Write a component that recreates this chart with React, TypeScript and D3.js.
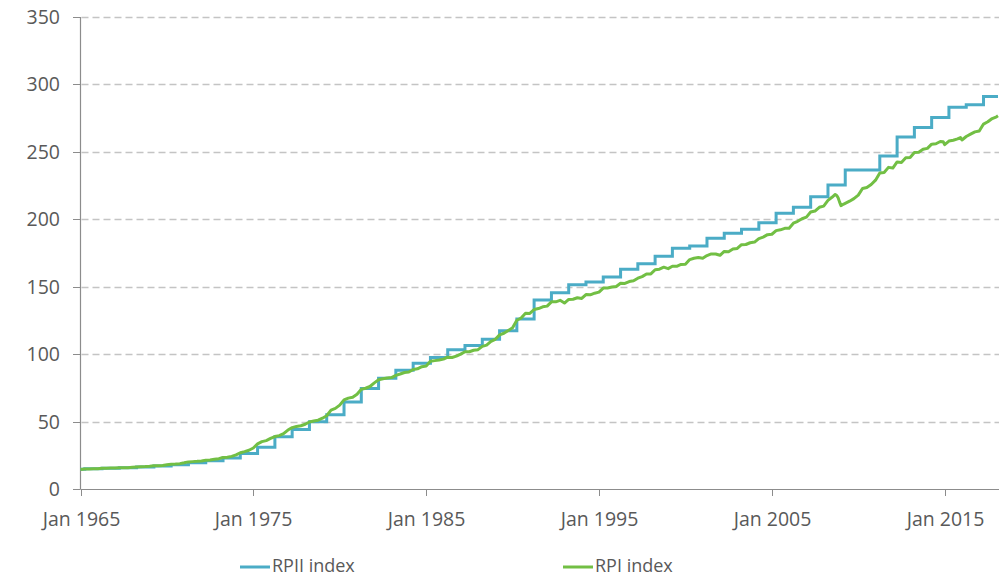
import React from "react";
import * as d3 from "d3";

const yTicks = [0, 50, 100, 150, 200, 250, 300, 350];
const xTickYears = [1965, 1975, 1985, 1995, 2005, 2015];

// RPII index: annual level, changing each April (year, value)
const rpiiYears = [1964, 1965, 1966, 1967, 1968, 1969, 1970, 1971, 1972, 1973, 1974, 1975, 1976, 1977, 1978, 1979, 1980, 1981, 1982, 1983, 1984, 1985, 1986, 1987, 1988, 1989, 1990, 1991, 1992, 1993, 1994, 1995, 1996, 1997, 1998, 1999, 2000, 2001, 2002, 2003, 2004, 2005, 2006, 2007, 2008, 2009, 2010, 2011, 2012, 2013, 2014, 2015, 2016, 2017];
const rpiiValues = [14.6, 15.0, 15.4, 15.8, 16.3, 17.0, 17.9, 19.5, 21.0, 23.0, 26.4, 30.9, 38.8, 44.2, 49.9, 55.0, 64.5, 74.6, 82.2, 88.0, 93.2, 97.5, 103.3, 106.5, 111.0, 117.4, 126.0, 140.1, 145.6, 151.5, 153.5, 157.2, 162.9, 167.0, 172.5, 178.5, 180.2, 185.9, 189.6, 192.6, 197.5, 204.4, 209.0, 216.7, 225.4, 236.5, 236.5, 247.0, 261.0, 268.0, 275.5, 283.0, 285.0, 291.0];

// RPI index: dates (YYYY-MM) and values
const rpiDates = [
  "1965-01", "1965-04", "1965-07", "1965-10",
  "1966-01", "1966-04", "1966-07", "1966-10",
  "1967-01", "1967-04", "1967-07", "1967-10",
  "1968-01", "1968-04", "1968-07", "1968-10",
  "1969-01", "1969-04", "1969-07", "1969-10",
  "1970-01", "1970-04", "1970-07", "1970-10",
  "1971-01", "1971-04", "1971-07", "1971-10",
  "1972-01", "1972-04", "1972-07", "1972-10",
  "1973-01", "1973-04", "1973-07", "1973-10",
  "1974-01", "1974-04", "1974-07", "1974-10",
  "1975-01", "1975-04", "1975-07", "1975-10",
  "1976-01", "1976-04", "1976-07", "1976-10",
  "1977-01", "1977-04", "1977-07", "1977-10",
  "1978-01", "1978-04", "1978-07", "1978-10",
  "1979-01", "1979-04", "1979-07", "1979-10",
  "1980-01", "1980-04", "1980-07", "1980-10",
  "1981-01", "1981-04", "1981-07", "1981-10",
  "1982-01", "1982-04", "1982-07", "1982-10",
  "1983-01", "1983-04", "1983-07", "1983-10",
  "1984-01", "1984-04", "1984-07", "1984-10",
  "1985-01", "1985-04", "1985-07", "1985-10",
  "1986-01", "1986-04", "1986-07", "1986-10",
  "1987-01", "1987-04", "1987-07", "1987-10",
  "1988-01", "1988-04", "1988-07", "1988-10",
  "1989-01", "1989-04", "1989-07", "1989-10",
  "1990-01", "1990-04", "1990-07", "1990-10",
  "1991-01", "1991-04", "1991-07", "1991-10",
  "1992-01", "1992-04", "1992-07", "1992-10",
  "1993-01", "1993-04", "1993-07", "1993-10",
  "1994-01", "1994-04", "1994-07", "1994-10",
  "1995-01", "1995-04", "1995-07", "1995-10",
  "1996-01", "1996-04", "1996-07", "1996-10",
  "1997-01", "1997-04", "1997-07", "1997-10",
  "1998-01", "1998-04", "1998-07", "1998-10",
  "1999-01", "1999-04", "1999-07", "1999-10",
  "2000-01", "2000-04", "2000-07", "2000-10",
  "2001-01", "2001-04", "2001-07", "2001-10",
  "2002-01", "2002-04", "2002-07", "2002-10",
  "2003-01", "2003-04", "2003-07", "2003-10",
  "2004-01", "2004-04", "2004-07", "2004-10",
  "2005-01", "2005-04", "2005-07", "2005-10",
  "2006-01", "2006-04", "2006-07", "2006-10",
  "2007-01", "2007-04", "2007-07", "2007-10",
  "2008-01", "2008-04", "2008-07", "2008-09", "2008-10", "2008-11", "2008-12",
  "2009-01", "2009-03", "2009-07", "2009-10",
  "2010-01", "2010-04", "2010-07", "2010-10",
  "2011-01", "2011-04", "2011-07", "2011-10",
  "2012-01", "2012-04", "2012-07", "2012-10",
  "2013-01", "2013-04", "2013-07", "2013-10",
  "2014-01", "2014-04", "2014-07", "2014-10", "2014-12",
  "2015-01", "2015-04", "2015-07", "2015-10", "2015-12",
  "2016-01", "2016-04", "2016-07", "2016-10",
  "2017-01", "2017-04", "2017-07", "2017-10",
  "2018-01", "2018-02"
];
const rpiValues = [
  14.5, 14.8, 14.9, 15.0,
  15.1, 15.4, 15.4, 15.5,
  15.6, 15.7, 15.7, 15.8,
  16.1, 16.4, 16.5, 16.6,
  16.9, 17.3, 17.3, 17.5,
  17.9, 18.3, 18.5, 18.8,
  19.4, 20.1, 20.3, 20.5,
  20.8, 21.3, 21.5, 22.0,
  22.5, 23.3, 23.6, 24.2,
  25.3, 26.9, 27.7, 28.7,
  30.4, 33.5, 35.1, 35.9,
  37.5, 38.9, 39.6, 41.0,
  43.7, 45.5, 46.4, 46.9,
  48.0, 49.7, 50.4, 51.0,
  52.5, 54.3, 58.5, 59.8,
  62.2, 66.1, 67.4, 68.1,
  70.3, 73.9, 74.7, 76.0,
  78.7, 81.0, 81.8, 82.3,
  82.6, 84.3, 85.3, 86.4,
  86.8, 88.6, 89.1, 90.7,
  91.2, 94.8, 95.2, 95.6,
  96.3, 97.7, 97.5, 98.5,
  100.0, 101.8, 101.8, 102.9,
  103.3, 105.8, 106.7, 109.5,
  111.0, 114.3, 115.5, 117.5,
  119.5, 125.1, 126.8, 130.3,
  130.2, 133.1, 133.8, 135.1,
  135.6, 138.8, 138.8, 139.9,
  137.9, 140.6, 140.7, 141.8,
  141.3, 144.2, 144.0, 145.2,
  146.0, 149.0, 149.1, 149.8,
  150.2, 152.6, 152.4, 153.8,
  154.4, 156.3, 157.5, 159.5,
  159.5, 162.6, 163.0, 164.5,
  163.4, 165.2, 165.1, 166.5,
  166.6, 170.1, 171.1, 171.6,
  171.1, 173.1, 174.3, 174.3,
  173.3, 176.2, 175.9, 177.9,
  178.4, 181.2, 181.3, 182.6,
  183.1, 185.7, 186.8, 188.6,
  188.9, 191.6, 192.2, 193.3,
  193.4, 197.1, 198.5, 200.4,
  201.6, 205.4, 206.1, 208.9,
  209.8, 214.0, 216.5, 218.4, 217.7, 216.0, 212.9,
  210.1, 211.3, 213.4, 215.3,
  217.9, 222.8, 223.6, 225.8,
  229.0, 234.4, 234.7, 238.5,
  238.0, 242.5, 242.1, 245.6,
  245.8, 249.5, 249.7, 251.9,
  252.6, 255.7, 256.0, 257.7, 257.5,
  255.4, 258.0, 258.6, 259.6, 260.6,
  258.8, 261.4, 263.1, 264.8,
  265.5, 270.6, 272.3, 274.7,
  276.0, 276.7
];

const rpiiLabel = "RPII index";
const rpiLabel = "RPI index";

const BLUE = "#4bacc6";
const GREEN = "#72bf44";
const TEXT = "#595959";
const AXIS = "#8c8c8c";
const FONT = "'Open Sans', 'Noto Sans', sans-serif";

export default function App() {
  const W = 1001;
  const H = 577;
  const left = 80.5;
  const right = 998;
  const top = 17;
  const bottom = 489;

  const endDate = new Date(2018, 1, 1);
  const x = d3.scaleTime().domain([new Date(1965, 0, 1), endDate]).range([left, right]);
  const y = d3.scaleLinear().domain([0, 350]).range([bottom, top]);

  const parse = (s: string) => {
    const [yy, mm] = s.split("-").map(Number);
    return new Date(yy, mm - 1, 1);
  };

  const rpiData = rpiDates.map((d, i) => ({ date: parse(d), value: rpiValues[i] }));
  const rpiiData = rpiiYears.map((yr, i) => ({
    date: yr < 1965 ? new Date(1965, 0, 1) : new Date(yr, 3, 1),
    value: rpiiValues[i],
  }));
  rpiiData.push({ date: endDate, value: rpiiValues[rpiiValues.length - 1] });

  const stepLine = d3
    .line<{ date: Date; value: number }>()
    .x((d) => x(d.date))
    .y((d) => y(d.value))
    .curve(d3.curveStepAfter);
  const line = d3
    .line<{ date: Date; value: number }>()
    .x((d) => x(d.date))
    .y((d) => y(d.value));

  return (
    <svg
      width={W}
      height={H}
      style={{ position: "absolute", left: 0, top: 0, background: "#fff" }}
      fontFamily={FONT}
    >
      {/* gridlines */}
      {yTicks.filter((t) => t > 0).map((t) => (
        <line
          key={"g" + t}
          x1={left + 1}
          x2={right + 1}
          y1={Math.round(y(t)) + 0.5}
          y2={Math.round(y(t)) + 0.5}
          stroke="#c4c4c4"
          strokeWidth={1.3}
          strokeDasharray="7,4"
        />
      ))}
      {/* y ticks and labels */}
      {yTicks.map((t) => (
        <g key={"y" + t}>
          <line x1={73} x2={left} y1={Math.round(y(t)) + 0.5} y2={Math.round(y(t)) + 0.5} stroke={AXIS} strokeWidth={1} />
          <text x={60} y={y(t)} dy="0.36em" textAnchor="end" fontSize={19.5} fill={TEXT}>
            {t}
          </text>
        </g>
      ))}
      {/* axes */}
      <line x1={left} x2={left} y1={top} y2={bottom} stroke={AXIS} strokeWidth={1.2} />
      <line x1={left} x2={right + 1} y1={bottom + 0.5} y2={bottom + 0.5} stroke={AXIS} strokeWidth={1.2} />
      {xTickYears.map((yr) => {
        const xx = Math.round(x(new Date(yr, 0, 1))) + 0.5;
        return (
          <g key={"x" + yr}>
            <line x1={xx} x2={xx} y1={bottom} y2={bottom + 7} stroke={AXIS} strokeWidth={1} />
            <text x={xx} y={526} textAnchor="middle" fontSize={19.5} fill={TEXT}>
              {"Jan " + yr}
            </text>
          </g>
        );
      })}
      {/* series */}
      <path d={stepLine(rpiiData) || ""} fill="none" stroke={BLUE} strokeWidth={3} strokeLinejoin="miter" />
      <path d={line(rpiData) || ""} fill="none" stroke={GREEN} strokeWidth={3} strokeLinejoin="round" />
      {/* legend */}
      <line x1={240} x2={270} y1={567} y2={567} stroke={BLUE} strokeWidth={3} />
      <text x={272} y={572} fontSize={18} fill={TEXT}>{rpiiLabel}</text>
      <line x1={563} x2={593} y1={567} y2={567} stroke={GREEN} strokeWidth={3} />
      <text x={595} y={572} fontSize={18} fill={TEXT}>{rpiLabel}</text>
    </svg>
  );
}
